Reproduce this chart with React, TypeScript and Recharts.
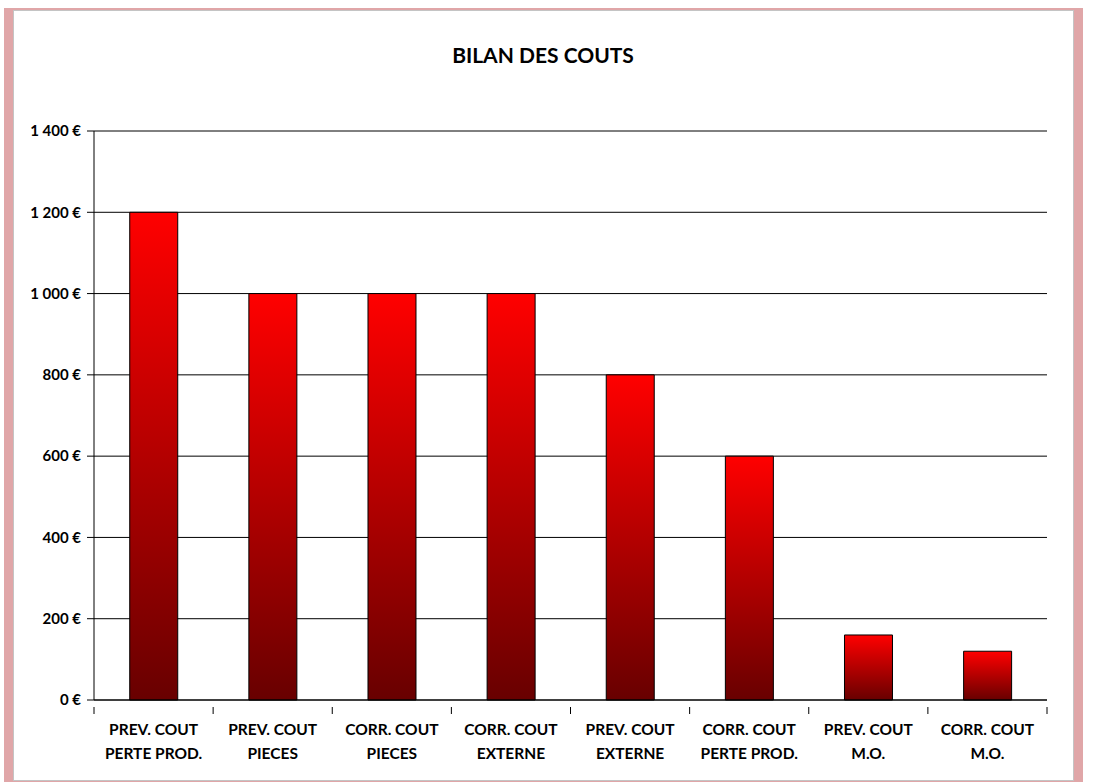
import React from 'react';
import { BarChart, Bar, XAxis, YAxis, CartesianGrid } from 'recharts';

const categories = [
  'PREV. COUT\nPERTE PROD.',
  'PREV. COUT\nPIECES',
  'CORR. COUT\nPIECES',
  'CORR. COUT\nEXTERNE',
  'PREV. COUT\nEXTERNE',
  'CORR. COUT\nPERTE PROD.',
  'PREV. COUT\nM.O.',
  'CORR. COUT\nM.O.',
];
const costs = [1200, 1000, 1000, 1000, 800, 600, 160, 120];
const yTicks = [0, 200, 400, 600, 800, 1000, 1200, 1400];

const data = categories.map((name, i) => ({ name, cout: costs[i] }));

const W = 1098;
const H = 782;
const M = { top: 131, right: 51, bottom: 0, left: 0 };
const Y_AXIS_W = 94;
const BAND = (W - Y_AXIS_W - M.right) / categories.length;
const FONT = 'Lato, "Open Sans", sans-serif';

const formatEuro = (v: number) => {
  const s = String(v).replace(/\B(?=(\d{3})+(?!\d))/g, ' ');
  return `${s} €`;
};

const CategoryTick = (props: any) => {
  const { x, y, payload, index } = props;
  const lines = String(payload.value).split('\n');
  const left = x - BAND / 2;
  const right = x + BAND / 2;
  return (
    <g>
      <line x1={left} y1={y - 1} x2={left} y2={y + 6} stroke="#000" strokeWidth={1} />
      {index === categories.length - 1 && (
        <line x1={right} y1={y - 1} x2={right} y2={y + 6} stroke="#000" strokeWidth={1} />
      )}
      {lines.map((l, i) => (
        <text
          key={i}
          x={x}
          y={y + 27 + i * 24}
          textAnchor="middle"
          fontFamily={FONT}
          fontWeight={700}
          fontSize={15.5}
          fill="#000"
        >
          {l}
        </text>
      ))}
    </g>
  );
};

export default function App() {
  return (
    <div style={{ position: 'absolute', left: 0, top: 0, width: W, height: H, background: '#fff', overflow: 'hidden' }}>
      <div style={{ position: 'absolute', left: 4, top: 8, width: 1079, height: 790, background: '#E0A6A8' }} />
      <div
        style={{
          position: 'absolute',
          left: 13,
          top: 10,
          width: 1059,
          height: 769,
          background: '#fff',
          border: '1px solid #C4C4C4',
        }}
      />
      <div
        style={{
          position: 'absolute',
          left: 0,
          width: 1086,
          top: 42,
          textAlign: 'center',
          fontFamily: FONT,
          fontWeight: 700,
          fontSize: 21,
          color: '#000',
        }}
      >
        BILAN DES COUTS
      </div>
      <div style={{ position: 'absolute', left: 0, top: 0 }}>
        <BarChart width={W} height={H} data={data} margin={M} barCategoryGap="30%">
          <defs>
            <linearGradient id="barGrad" x1="0" y1="0" x2="0" y2="1">
              <stop offset="0%" stopColor="#FF0000" />
              <stop offset="100%" stopColor="#680000" />
            </linearGradient>
          </defs>
          <CartesianGrid vertical={false} stroke="#000" strokeOpacity={1} />
          <XAxis
            dataKey="name"
            interval={0}
            height={82}
            tickLine={false}
            axisLine={{ stroke: '#000' }}
            tick={<CategoryTick />}
          />
          <YAxis
            width={Y_AXIS_W}
            domain={[0, 1400]}
            ticks={yTicks}
            interval={0}
            tickSize={7}
            tickMargin={6}
            tickFormatter={formatEuro}
            axisLine={{ stroke: '#000' }}
            tickLine={{ stroke: '#000' }}
            tick={{ fill: '#000', fontFamily: FONT, fontWeight: 700, fontSize: 15 }}
          />
          <Bar dataKey="cout" fill="url(#barGrad)" stroke="#000" strokeWidth={1} isAnimationActive={false} />
        </BarChart>
      </div>
    </div>
  );
}
